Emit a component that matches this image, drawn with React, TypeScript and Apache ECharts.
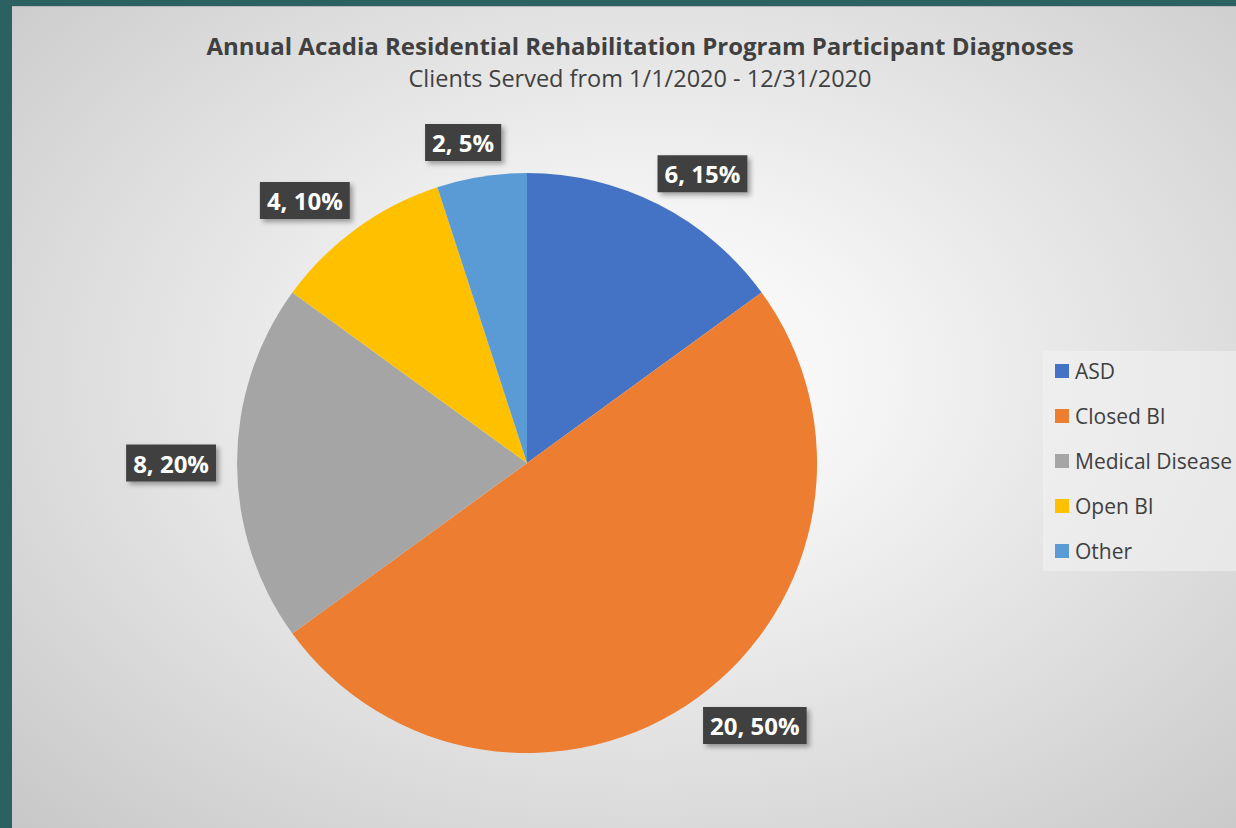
import React, { useEffect, useRef } from "react";
import * as echarts from "echarts";

const categories = ["ASD", "Closed BI", "Medical Disease", "Open BI", "Other"];
const values = [6, 20, 8, 4, 2];
const colors = ["#4472C4", "#ED7D31", "#A5A5A5", "#FFC000", "#5B9BD5"];
const titleText = "Annual Acadia Residential Rehabilitation Program Participant Diagnoses";
const subtitleText = "Clients Served from 1/1/2020 - 12/31/2020";

const FONT = "'Open Sans', 'Noto Sans', sans-serif";

export default function App() {
  const ref = useRef<HTMLDivElement>(null);
  useEffect(() => {
    if (!ref.current) return;
    const chart = echarts.init(ref.current, undefined, { renderer: "svg" });
    const total = values.reduce((a, b) => a + b, 0);
    const mids: number[] = [];
    let acc = 0;
    values.forEach((v) => {
      mids.push(((acc + v / 2) / total) * Math.PI * 2);
      acc += v;
    });
    chart.setOption({
      animation: false,
      backgroundColor: "transparent",
      title: {
        text: titleText,
        subtext: subtitleText,
        left: 623,
        textAlign: "center",
        top: 21,
        itemGap: 9,
        textStyle: { fontFamily: FONT, fontSize: 24, fontWeight: "bold", color: "#404040" },
        subtextStyle: { fontFamily: FONT, fontSize: 23.5, color: "#404040" },
      },
      legend: {
        orient: "vertical",
        left: 1031,
        top: 344,
        width: 210,
        padding: [8, 20, 8, 12],
        backgroundColor: "rgba(242,242,242,0.6)",
        icon: "rect",
        itemWidth: 14,
        itemHeight: 14,
        itemGap: 21,
        data: categories,
        textStyle: { fontFamily: FONT, fontSize: 21, color: "#404040", lineHeight: 24, padding: [0, 0, 0, 1] },
      },
      series: [
        {
          type: "pie",
          center: [515, 456],
          radius: 290,
          startAngle: 90,
          clockwise: true,
          avoidLabelOverlap: false,
          data: categories.map((c, i) => ({ name: c, value: values[i], itemStyle: { color: colors[i] } })),
          label: {
            show: true,
            position: "outside",
            formatter: (p: any) => `${p.value}, ${Math.round(p.percent)}%`,
            fontFamily: FONT,
            fontSize: 24,
            fontWeight: "bold",
            color: "#ffffff",
            lineHeight: 28,
            backgroundColor: "#404040",
            padding: [5, 7, 4, 7],
            shadowColor: "rgba(0,0,0,0.35)",
            shadowBlur: 5,
            shadowOffsetX: 3,
            shadowOffsetY: 3,
          },
          labelLine: { show: false, length: 16, length2: 0 },
          labelLayout: (params: any) => {
            const t = mids[params.dataIndex];
            const h = params.labelRect.height;
            const w = params.labelRect.width;
            const s = Math.sin(t);
            const k = Math.pow(1 - Math.abs(s), 2);
            return { dy: -Math.cos(t) * h / 2, dx: -Math.sign(s) * (w / 2) * k };
          },
          emphasis: { disabled: true },
        },
      ],
    });
    return () => chart.dispose();
  }, []);
  return (
    <div style={{ position: "fixed", left: 0, top: 0, width: 1236, height: 828, background: "#2b6161" }}>
      <div
        style={{
          position: "absolute",
          left: 12,
          top: 6,
          width: 1224,
          height: 822,
          background: "radial-gradient(ellipse 75% 80% at 52% 45%, #ffffff 0%, #f4f4f4 25%, #dcdcdc 65%, #c6c6c6 100%)",
          borderTop: "1px solid #b8b8b8",
          boxSizing: "border-box",
        }}
      >
        <div ref={ref} style={{ width: 1224, height: 822 }} />
      </div>
    </div>
  );
}
